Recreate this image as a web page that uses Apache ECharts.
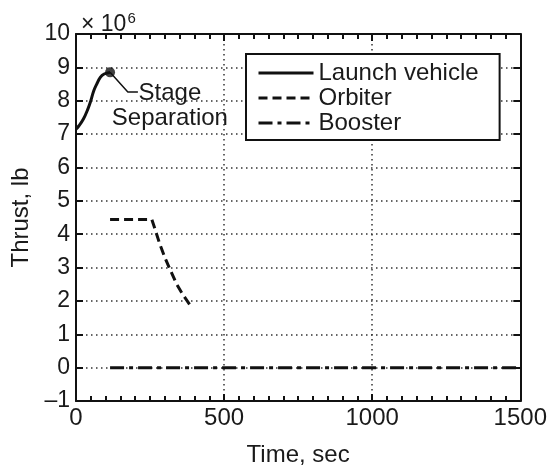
<!DOCTYPE html>
<html>
<head>
<meta charset="utf-8">
<script src="https://cdn.jsdelivr.net/npm/echarts@6/dist/echarts.min.js"></script>
<style>
  html, body { margin: 0; padding: 0; background: #fff; }
  #main { width: 550px; height: 472px; }
</style>
</head>
<body>
<div id="main"></div>
<script>
var myChart = echarts.init(document.getElementById("main"));

// 数据（单位：时间 sec，推力 ×10^6 lb）
var launchVehicle = [[0, 7.15], [10, 7.25], [25, 7.45], [40, 7.75], [50, 8.0], [60, 8.3], [70, 8.5], [82, 8.7], [95, 8.8], [115, 8.85]];
var orbiter = [[115, 4.44], [256, 4.44], [265, 4.2], [283, 3.7], [300, 3.3], [317, 2.95], [340, 2.5], [360, 2.2], [384, 1.89]];
var booster = [[115, 0], [1500, 0]];
var stageSep = [[115, 8.85]];
var leader = [[115, 8.85], [175, 8.26], [209, 8.26]];
var xTicks = [0, 500, 1000, 1500];
var yTicks = [-1, 0, 1, 2, 3, 4, 5, 6, 7, 8, 9, 10];

var fontFamily = '"Liberation Sans", Arial, Helvetica, sans-serif';
var textColor = '#1a1a1a';

var baseX = {
    type: 'value',
    min: xTicks[0],
    max: xTicks[xTicks.length - 1],
    interval: 500,
    axisLine: { show: true, onZero: false, lineStyle: { color: '#111', width: 2 } },
    axisTick: { show: true, inside: true, length: 7, lineStyle: { color: '#111', width: 2 } },
    minorTick: { show: true, splitNumber: 10, length: 5, lineStyle: { color: '#111', width: 2 } },
    splitLine: { show: false }
};
var baseY = {
    type: 'value',
    min: yTicks[0],
    max: yTicks[yTicks.length - 1],
    interval: 1,
    axisLine: { show: true, onZero: false, lineStyle: { color: '#111', width: 2 } },
    axisTick: { show: true, inside: true, length: 7, lineStyle: { color: '#111', width: 2 } },
    splitLine: { show: false }
};

var option = {
    backgroundColor: '#fff',
    animation: false,
    textStyle: { fontFamily: fontFamily },
    title: {
        text: '{m|× 10}{s|6}',
        left: 76,
        top: 6,
        textStyle: {
            fontWeight: 'normal',
            color: textColor,
            fontFamily: fontFamily,
            rich: {
                m: { fontSize: 23, color: textColor, fontFamily: fontFamily, verticalAlign: 'bottom', lineHeight: 25 },
                s: { fontSize: 15, color: textColor, fontFamily: fontFamily, verticalAlign: 'top', lineHeight: 25, padding: [0, 0, 0, 1] }
            }
        }
    },
    grid: { left: 76, right: 29, top: 34, bottom: 64 },
    legend: {
        data: ['Launch vehicle', 'Orbiter', 'Booster'],
        orient: 'vertical',
        left: 246,
        top: 54,
        padding: [7, 21, 5, 11],
        itemGap: 1,
        itemWidth: 55,
        itemHeight: 24,
        backgroundColor: '#fff',
        borderColor: '#111',
        borderWidth: 2,
        borderRadius: 0,
        itemStyle: { color: 'transparent', borderWidth: 0, opacity: 0 },
        lineStyle: { width: 3 },
        textStyle: { fontSize: 24, color: textColor, fontFamily: fontFamily, padding: [0, 0, 0, 0] }
    },
    xAxis: [
        echarts.util.merge({
            position: 'bottom',
            name: 'Time, sec',
            nameLocation: 'middle',
            nameGap: 42,
            nameTextStyle: { fontSize: 24, color: textColor },
            axisLabel: {
                fontSize: 24, color: textColor, margin: 5,
                formatter: function (v) { return String(v); }
            },
            splitLine: { show: true, lineStyle: { color: '#333', width: 1.5, type: [1.5, 3.5] } }
        }, baseX, false),
        echarts.util.merge({
            position: 'top',
            axisLabel: { show: false }
        }, baseX, false)
    ],
    yAxis: [
        echarts.util.merge({
            position: 'left',
            name: 'Thrust, lb',
            nameLocation: 'middle',
            nameGap: 43,
            nameTextStyle: { fontSize: 24, color: textColor },
            axisLabel: {
                fontSize: 23, color: textColor, margin: 6,
                formatter: function (v) { return v < 0 ? '\u2013' + (-v) : String(v); }
            },
            splitLine: { show: true, lineStyle: { color: '#333', width: 1.5, type: [1.5, 3.5] } }
        }, baseY, false),
        echarts.util.merge({
            position: 'right',
            axisLabel: { show: false }
        }, baseY, false)
    ],
    series: [
        {
            name: 'Launch vehicle',
            type: 'line',
            smooth: 0.4,
            symbol: 'none',
            data: launchVehicle,
            lineStyle: { color: '#111', width: 3, type: 'solid' },
            itemStyle: { color: '#111' },
            z: 5
        },
        {
            name: 'Orbiter',
            type: 'line',
            symbol: 'none',
            data: orbiter,
            lineStyle: { color: '#111', width: 3, type: [9, 5] },
            itemStyle: { color: '#111' },
            z: 5
        },
        {
            name: 'Booster',
            type: 'line',
            symbol: 'none',
            data: booster,
            lineStyle: { color: '#111', width: 3, type: [14, 5, 4, 5] },
            itemStyle: { color: '#111' },
            z: 5
        },
        {
            name: 'leader',
            type: 'line',
            symbol: 'none',
            data: leader,
            lineStyle: { color: '#111', width: 1.5 },
            silent: true,
            z: 4
        },
        {
            name: 'sep',
            type: 'scatter',
            symbol: 'circle',
            symbolSize: 10,
            data: stageSep,
            itemStyle: { color: '#111' },
            z: 6
        }
    ]
};

myChart.setOption(option);

// 注释文字
var anchor = myChart.convertToPixel({ gridIndex: 0 }, leader[leader.length - 1]);
myChart.setOption({
    graphic: [{
        type: 'text',
        x: anchor[0] + 32,
        y: anchor[1] - 11,
        style: {
            text: 'Stage\nSeparation',
            align: 'center',
            verticalAlign: 'top',
            font: '24px ' + fontFamily,
            fill: textColor,
            lineHeight: 25
        },
        z: 10
    }]
});
</script>
</body>
</html>
